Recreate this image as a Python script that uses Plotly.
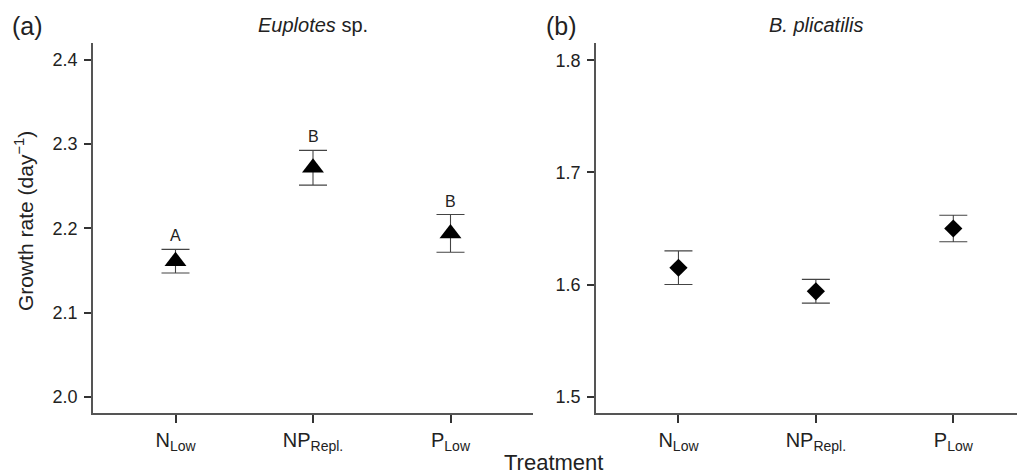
import plotly.graph_objects as go

categories = ["N<sub>Low</sub>", "NP<sub>Repl.</sub>", "P<sub>Low</sub>"]

euplotes_mean = [2.161, 2.272, 2.194]
euplotes_err = [0.014, 0.0206, 0.0224]
euplotes_letters = ["A", "B", "B"]

brachionus_mean = [1.615, 1.594, 1.650]
brachionus_err = [0.015, 0.0106, 0.0118]

FONT = "Liberation Sans, Arial, Helvetica, sans-serif"
AXC = "#555555"
TXT = "#222222"
W, H = 1025, 474
OFF = 8  # page body margin offset


def px(X):
    return (X - OFF) / W


def py(Y):
    return 1 - (Y - OFF) / H


fig = go.Figure()

fig.add_trace(go.Scatter(
    x=categories, y=euplotes_mean, mode="markers",
    marker=dict(symbol="triangle-up", size=19, color="black"),
    error_y=dict(type="data", array=euplotes_err, visible=True,
                 color="#444444", thickness=1.1, width=14),
    xaxis="x", yaxis="y", showlegend=False))

fig.add_trace(go.Scatter(
    x=categories, y=brachionus_mean, mode="markers",
    marker=dict(symbol="diamond", size=14, color="black"),
    error_y=dict(type="data", array=brachionus_err, visible=True,
                 color="#444444", thickness=1.1, width=14),
    xaxis="x2", yaxis="y2", showlegend=False))

annotations = []
for c, m, e, t in zip(categories, euplotes_mean, euplotes_err, euplotes_letters):
    annotations.append(dict(x=c, y=m + e, xref="x", yref="y", text=t,
                            showarrow=False, yanchor="bottom", yshift=3,
                            font=dict(family=FONT, size=16, color=TXT)))

annotations += [
    dict(text="(a)", x=px(10), y=py(26), xref="paper", yref="paper",
         xanchor="left", yanchor="middle", showarrow=False,
         font=dict(family=FONT, size=25, color=TXT)),
    dict(text="(b)", x=px(544), y=py(26), xref="paper", yref="paper",
         xanchor="left", yanchor="middle", showarrow=False,
         font=dict(family=FONT, size=25, color=TXT)),
    dict(text="<i>Euplotes</i> sp.", x=px(313), y=py(25), xref="paper", yref="paper",
         xanchor="center", yanchor="middle", showarrow=False,
         font=dict(family=FONT, size=20, color=TXT)),
    dict(text="<i>B. plicatilis</i>", x=px(816), y=py(25), xref="paper", yref="paper",
         xanchor="center", yanchor="middle", showarrow=False,
         font=dict(family=FONT, size=20, color=TXT)),
    dict(text="Growth rate (day<sup>−1</sup>)", x=px(24), y=py(221),
         xref="paper", yref="paper", xanchor="center", yanchor="middle",
         textangle=-90, showarrow=False,
         font=dict(family=FONT, size=21, color=TXT)),
    dict(text="Treatment", x=px(553), y=py(462), xref="paper", yref="paper",
         xanchor="center", yanchor="middle", showarrow=False,
         font=dict(family=FONT, size=22, color=TXT)),
]

common_x = dict(type="category", showline=True, linecolor=AXC, linewidth=1.5,
                ticks="outside", ticklen=8, tickwidth=1.5, tickcolor="#333333",
                showgrid=False, zeroline=False,
                tickfont=dict(family=FONT, size=20, color=TXT))
common_y = dict(showline=True, linecolor=AXC, linewidth=1.5,
                ticks="outside", ticklen=7, tickwidth=1.5, tickcolor="#333333",
                showgrid=False, zeroline=False, dtick=0.1, tickformat=".1f",
                ticklabelstandoff=3,
                tickfont=dict(family=FONT, size=18, color=TXT))

ydom = [py(413.3), py(43)]

fig.update_layout(
    width=W, height=H,
    margin=dict(l=0, r=0, t=0, b=0),
    paper_bgcolor="white", plot_bgcolor="white",
    xaxis=dict(common_x, domain=[px(93), px(533)], range=[-0.6, 2.6],
               anchor="y"),
    yaxis=dict(common_y, domain=ydom, range=[1.9803, 2.4202], anchor="x"),
    xaxis2=dict(common_x, domain=[px(596), 1.0], range=[-0.6, 2.58],
                anchor="y2"),
    yaxis2=dict(common_y, domain=ydom, range=[1.4852, 1.8154], anchor="x2"),
    annotations=annotations,
)

fig.write_html("out.html")
